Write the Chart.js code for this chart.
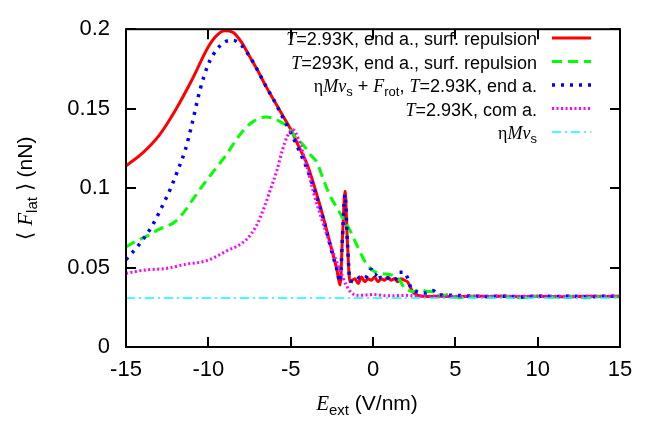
<!DOCTYPE html>
<html>
<head>
<meta charset="utf-8">
<script src="https://cdn.jsdelivr.net/npm/chart.js@4.4.0/dist/chart.umd.min.js"></script>
<style>
  html, body { margin: 0; padding: 0; background: #fff; }
</style>
</head>
<body>
<canvas id="chart" width="660" height="421"></canvas>
<script>
// values
const seriesNames = [
    'T=2.93K, end a., surf. repulsion',
    'T=293K, end a., surf. repulsion',
    'ηMv_s + F_rot, T=2.93K, end a.',
    'T=2.93K, com a.',
    'ηMv_s'
];

const redE = [-15, -14, -13, -12, -11, -10, -9.5, -9, -8.5, -8, -7.5, -7, -6.5, -6, -5.5, -5, -4.5, -4, -3.5, -3, -2.5, -2.2, -2.0,
    -1.85, -1.7, -1.55, -1.4, -1.1, -0.9, -0.7, -0.5, -0.3, -0.1, 0.1, 0.3, 0.5, 0.7, 0.9, 1.1, 1.3, 1.5, 1.7, 1.9, 2.1,
    2.37, 2.6, 3, 3.5, 4, 5, 6, 7, 8, 9, 10, 11, 12, 13, 14, 15];
const redF = [0.114, 0.122, 0.133, 0.149, 0.168, 0.189, 0.196, 0.199, 0.198, 0.192, 0.183, 0.174, 0.164, 0.155, 0.146, 0.137, 0.126, 0.115, 0.099, 0.081, 0.061, 0.049, 0.039,
    0.07, 0.098, 0.065, 0.041, 0.043, 0.040, 0.044, 0.041, 0.043, 0.042, 0.044, 0.041, 0.043, 0.042, 0.044, 0.042, 0.043, 0.041, 0.043, 0.042, 0.041,
    0.0355, 0.033, 0.032, 0.0318, 0.032, 0.0315, 0.032, 0.0318, 0.032, 0.0315, 0.032, 0.0318, 0.0315, 0.032, 0.0318, 0.032];

const greenE = [-15, -14.5, -13.8, -13, -12, -11.4, -10.8, -10.1, -9.5, -8.9, -8.4, -7.9, -7.4, -6.9, -6.5, -6, -5.5, -5.2, -4.7, -4.2, -3.8, -3.4, -3, -2.6, -2.1, -1.8,
    -1.4, -1, -0.4, 0.3, 0.7, 1.1, 1.6, 1.9, 2.2, 2.5, 2.85, 3.3, 3.9, 4.1, 4.6, 5.2, 6, 7, 8, 9, 10, 11, 12, 13, 14, 15];
const greenF = [0.063, 0.066, 0.0695, 0.074, 0.079, 0.086, 0.095, 0.105, 0.113, 0.121, 0.129, 0.136, 0.141, 0.144, 0.1448, 0.1437, 0.141, 0.1387, 0.132, 0.1267, 0.121, 0.116, 0.105, 0.095, 0.086, 0.0805,
    0.0735, 0.0645, 0.0524, 0.0464, 0.046, 0.0454, 0.0424, 0.0373, 0.0355, 0.035, 0.0363, 0.035, 0.0343, 0.0323, 0.033, 0.031, 0.032, 0.0315, 0.032, 0.031, 0.032, 0.0315, 0.032, 0.031, 0.032, 0.0315];

const blueE = [-15, -14.2, -13.4, -12.8, -12.3, -11.8, -11.4, -11, -10.5, -10, -9.5, -9, -8.5, -8, -7.5, -7, -6.5, -6, -5.5, -5, -4.5, -4, -3.5, -3, -2.5, -2.2, -2.0,
    -1.85, -1.7, -1.55, -1.4, -1.1, -0.8, -0.5, -0.3, -0.1, 0.1, 0.3, 0.5, 0.8, 1.1, 1.4, 1.6, 1.9, 2.1, 2.25, 2.85, 3.2, 3.64, 4, 5, 6, 7, 8, 9, 10, 11, 12, 13, 14, 15];
const blueF = [0.055, 0.0645, 0.0765, 0.0886, 0.0996, 0.1127, 0.124, 0.14, 0.162, 0.178, 0.187, 0.192, 0.193, 0.19, 0.183, 0.174, 0.164, 0.155, 0.145, 0.135, 0.124, 0.112, 0.097, 0.08, 0.06, 0.049, 0.041,
    0.07, 0.096, 0.065, 0.042, 0.041, 0.044, 0.043, 0.046, 0.049, 0.045, 0.047, 0.043, 0.044, 0.042, 0.043, 0.047, 0.047, 0.0434, 0.0385, 0.0343, 0.034, 0.0355, 0.033, 0.0325, 0.032, 0.0318, 0.032, 0.0315, 0.032, 0.0318, 0.032, 0.0315, 0.032, 0.0318];

const magentaE = [-15, -13.8, -12.6, -11.4, -10.1, -8.9, -7.7, -7.1, -6.6, -6.2, -5.85, -5.5, -5.2, -4.85, -4.5, -4, -3.6, -3.1, -2.6, -2, -1.6, -1.2, -0.8, 0, 1, 2, 3, 5, 7, 9, 11, 13, 15];
const magentaF = [0.0464, 0.0485, 0.0494, 0.052, 0.0544, 0.0604, 0.0675, 0.076, 0.088, 0.1, 0.1106, 0.124, 0.1327, 0.1367, 0.13, 0.113, 0.0966, 0.08, 0.0645, 0.0484, 0.0384, 0.0333, 0.0325, 0.033, 0.0322, 0.0325, 0.032, 0.032, 0.032, 0.032, 0.032, 0.032, 0.032];

const cyanE = [-15, 15];
const cyanF = [0.0309, 0.0309];

const xTicks = [-15, -10, -5, 0, 5, 10, 15];
const yTicks = [0, 0.05, 0.1, 0.15, 0.2];

const SANS = '"Liberation Sans", Arial, Helvetica, sans-serif';
const SERIF = '"Liberation Serif", "Times New Roman", serif';

function pts(xs, ys) {
    return xs.map((x, i) => ({ x: x, y: ys[i] }));
}

// draw a run of text pieces with their own font and baseline shift
function richText(ctx, parts, x, y, align) {
    let w = 0;
    parts.forEach(p => { ctx.font = p[1]; w += ctx.measureText(p[0]).width; });
    let cx = x;
    if (align === 'right') cx = x - w;
    if (align === 'center') cx = x - w / 2;
    ctx.textAlign = 'left';
    ctx.textBaseline = 'alphabetic';
    parts.forEach(p => {
        ctx.font = p[1];
        ctx.fillText(p[0], cx, y + (p[2] || 0));
        cx += ctx.measureText(p[0]).width;
    });
}

const L = '18px ' + SANS;
const LI = 'italic 18px ' + SERIF;
const LG = '18px ' + SERIF;
const LS = '13px ' + SANS;

const legendText = [
    [['T', LI], ['=2.93K, end a., surf. repulsion', L]],
    [['T', LI], ['=293K, end a., surf. repulsion', L]],
    [['η', LG], ['M', LI], ['v', LI], ['s', LS, 4], [' + ', L], ['F', LI], ['rot', LS, 4], [', ', L], ['T', LI], ['=2.93K, end a.', L]],
    [['T', LI], ['=2.93K, com a.', L]],
    [['η', LG], ['M', LI], ['v', LI], ['s', LS, 4]]
];

const gnuFrame = {
    id: 'gnuFrame',
    afterDraw(chart) {
        const ctx = chart.ctx;
        const a = chart.chartArea;
        const xs = chart.scales.x, ys = chart.scales.y;
        ctx.save();
        ctx.strokeStyle = '#000';
        ctx.lineWidth = 2;
        ctx.strokeRect(a.left, a.top, a.right - a.left, a.bottom - a.top);
        ctx.beginPath();
        xTicks.forEach(v => {
            const px = Math.round(xs.getPixelForValue(v));
            ctx.moveTo(px, a.bottom); ctx.lineTo(px, a.bottom - 10);
            ctx.moveTo(px, a.top); ctx.lineTo(px, a.top + 10);
        });
        yTicks.forEach(v => {
            const py = Math.round(ys.getPixelForValue(v));
            ctx.moveTo(a.left, py); ctx.lineTo(a.left + 10, py);
            ctx.moveTo(a.right, py); ctx.lineTo(a.right - 10, py);
        });
        ctx.stroke();

        // legend, top right inside the plot
        ctx.fillStyle = '#000';
        const ds = chart.data.datasets;
        legendText.forEach((parts, i) => {
            const ly = 38 + i * 23.5;
            richText(ctx, parts, 537, ly + 7, 'right');
            const d = ds[i];
            ctx.beginPath();
            ctx.strokeStyle = d.borderColor;
            ctx.lineWidth = d.borderWidth;
            ctx.setLineDash(d.borderDash || []);
            ctx.moveTo(552, ly);
            ctx.lineTo(591, ly);
            ctx.stroke();
        });
        ctx.setLineDash([]);

        // axis titles
        const T = '21px ' + SANS, TI = 'italic 21px ' + SERIF, TS = '15px ' + SANS;
        ctx.fillStyle = '#000';
        richText(ctx, [['E', TI], ['ext', TS, 5], [' (V/nm)', T]], 367, 410, 'center');
        ctx.translate(32, (a.top + a.bottom) / 2);
        ctx.rotate(-Math.PI / 2);
        richText(ctx, [['⟨ ', T], ['F', TI], ['lat', TS, 5], [' ⟩ (nN)', T]], 0, 0, 'center');
        ctx.restore();
    }
};

new Chart(document.getElementById('chart'), {
    type: 'line',
    data: {
        datasets: [
            { label: seriesNames[0], data: pts(redE, redF), borderColor: '#ff0000', borderWidth: 3, order: 5 },
            { label: seriesNames[1], data: pts(greenE, greenF), borderColor: '#00ff00', borderWidth: 3, borderDash: [10, 6], order: 4 },
            { label: seriesNames[2], data: pts(blueE, blueF), borderColor: '#0000ff', borderWidth: 3.5, borderDash: [3, 6], order: 3 },
            { label: seriesNames[3], data: pts(magentaE, magentaF), borderColor: '#ff00ff', borderWidth: 3, borderDash: [2, 2.5], order: 2 },
            { label: seriesNames[4], data: pts(cyanE, cyanF), borderColor: '#00ffff', borderWidth: 1.5, borderDash: [9, 4, 2, 4], order: 1 }
        ]
    },
    options: {
        responsive: false,
        animation: false,
        devicePixelRatio: 1,
        layout: { autoPadding: false, padding: { left: 0, right: 40, top: 15, bottom: 0 } },
        elements: { point: { radius: 0 }, line: { cubicInterpolationMode: 'monotone', fill: false } },
        plugins: { legend: { display: false }, title: { display: false }, tooltip: { enabled: false } },
        scales: {
            x: {
                type: 'linear', min: -15, max: 15,
                afterFit: s => { s.height = 74; },
                afterBuildTicks: s => { s.ticks = xTicks.map(v => ({ value: v })); },
                grid: { display: false, drawTicks: false },
                border: { display: false },
                ticks: { color: '#000', font: { family: SANS, size: 22 }, padding: 10, maxRotation: 0 }
            },
            y: {
                type: 'linear', min: 0, max: 0.2,
                afterFit: s => { s.width = 126; },
                afterBuildTicks: s => { s.ticks = yTicks.map(v => ({ value: v })); },
                grid: { display: false, drawTicks: false },
                border: { display: false },
                ticks: { color: '#000', font: { family: SANS, size: 22 }, padding: 16, callback: v => String(Math.round(v * 100) / 100) }
            }
        }
    },
    plugins: [gnuFrame]
});
</script>
</body>
</html>
